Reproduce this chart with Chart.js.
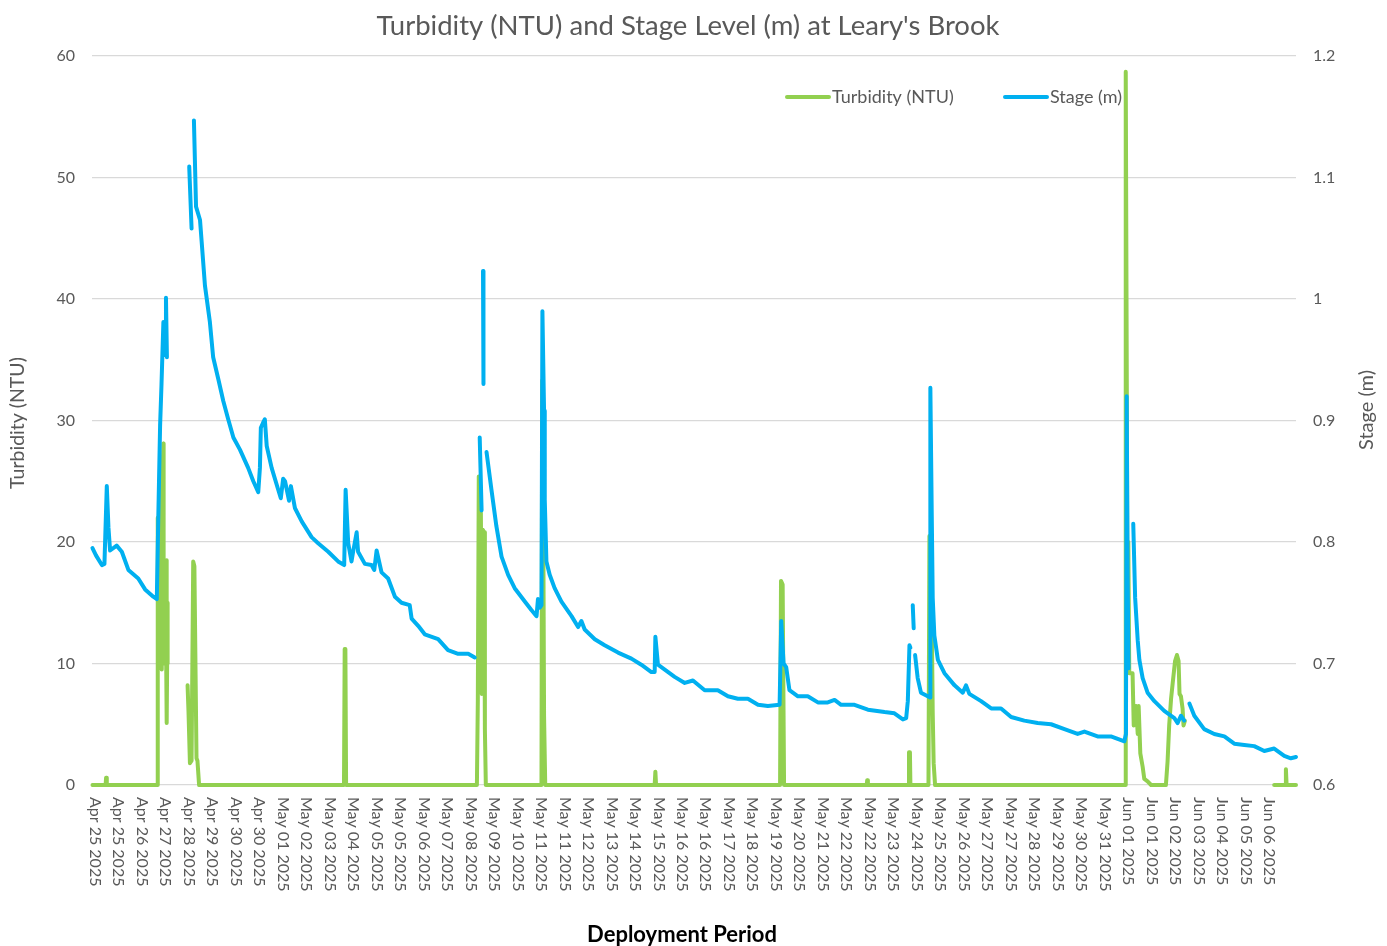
<!DOCTYPE html>
<html>
<head>
<meta charset="utf-8">
<title>Turbidity and Stage - Leary's Brook</title>
<script src="https://cdn.jsdelivr.net/npm/chart.js@4.4.1/dist/chart.umd.min.js"></script>
<style>
  html, body { margin: 0; padding: 0; background: #fff; }
  #wrap { width: 1387px; height: 946px; }
</style>
</head>
<body>
<div id="wrap"><canvas id="chart" width="1387" height="946"></canvas></div>
<script>
// category labels shown under the axis (one every sampling block)
const dateLabels = [
    'Apr 25 2025', 'Apr 25 2025', 'Apr 26 2025', 'Apr 27 2025', 'Apr 28 2025', 'Apr 29 2025',
    'Apr 30 2025', 'Apr 30 2025', 'May 01 2025', 'May 02 2025', 'May 03 2025', 'May 04 2025',
    'May 05 2025', 'May 05 2025', 'May 06 2025', 'May 07 2025', 'May 08 2025', 'May 09 2025',
    'May 10 2025', 'May 11 2025', 'May 11 2025', 'May 12 2025', 'May 13 2025', 'May 14 2025',
    'May 15 2025', 'May 16 2025', 'May 16 2025', 'May 17 2025', 'May 18 2025', 'May 19 2025',
    'May 20 2025', 'May 21 2025', 'May 22 2025', 'May 22 2025', 'May 23 2025', 'May 24 2025',
    'May 25 2025', 'May 26 2025', 'May 27 2025', 'May 27 2025', 'May 28 2025', 'May 29 2025',
    'May 30 2025', 'May 31 2025', 'Jun 01 2025', 'Jun 01 2025', 'Jun 02 2025', 'Jun 03 2025',
    'Jun 04 2025', 'Jun 05 2025', 'Jun 06 2025'
];

// [position along the record (in label steps), value]; null = logger gap
const stagePts = [
    [-0.11, 0.795], [0.04, 0.789], [0.29, 0.781], [0.40, 0.782], [0.50, 0.846], [0.57, 0.812],
    [0.64, 0.793], [0.92, 0.797], [1.14, 0.792], [1.42, 0.777], [1.84, 0.770], [2.13, 0.761],
    [2.48, 0.755], [2.63, 0.753], [2.69, 0.817], [2.77, 0.896], [2.83, 0.930], [2.91, 0.981],
    [2.98, 0.954], [3.02, 1.001], [3.06, 0.952],
    [3.5, null],
    [4.01, 1.109], [4.11, 1.058],
    [4.16, null],
    [4.21, 1.147], [4.30, 1.076], [4.47, 1.065], [4.54, 1.047], [4.68, 1.011], [4.89, 0.981],
    [5.03, 0.952], [5.25, 0.934], [5.46, 0.916], [5.67, 0.901], [5.89, 0.886], [6.17, 0.876],
    [6.52, 0.861], [6.74, 0.850], [6.95, 0.841], [7.02, 0.861], [7.06, 0.894], [7.15, 0.898],
    [7.23, 0.901], [7.31, 0.879], [7.52, 0.861], [7.80, 0.843], [7.91, 0.836], [8.01, 0.852],
    [8.09, 0.850], [8.26, 0.834], [8.34, 0.846], [8.51, 0.828], [8.80, 0.817], [9.22, 0.804],
    [9.50, 0.799], [9.93, 0.792], [10.35, 0.784], [10.61, 0.781], [10.67, 0.843], [10.78, 0.799],
    [10.92, 0.784], [10.99, 0.792], [11.14, 0.808], [11.20, 0.792], [11.49, 0.782], [11.77, 0.781],
    [11.89, 0.777], [11.99, 0.793], [12.20, 0.775], [12.48, 0.770], [12.77, 0.755], [13.05, 0.750],
    [13.40, 0.748], [13.48, 0.737], [13.76, 0.731], [14.04, 0.724], [14.61, 0.720], [15.03, 0.711],
    [15.46, 0.708], [15.89, 0.708], [16.17, 0.705],
    [16.25, null],
    [16.38, 0.886], [16.46, 0.826],
    [16.49, null],
    [16.52, 1.023], [16.54, 0.930],
    [16.60, null],
    [16.67, 0.874], [16.88, 0.843], [17.09, 0.813], [17.31, 0.788], [17.59, 0.773], [17.87, 0.762],
    [18.30, 0.751], [18.58, 0.744], [18.80, 0.739], [18.86, 0.753], [18.94, 0.746], [19.01, 0.748],
    [19.05, 0.990], [19.12, 0.908], [19.15, 0.835], [19.22, 0.784], [19.36, 0.773], [19.57, 0.762],
    [19.86, 0.751], [20.29, 0.739], [20.57, 0.730], [20.71, 0.735], [20.85, 0.728], [21.28, 0.720],
    [21.70, 0.715], [22.27, 0.709], [22.84, 0.704], [23.26, 0.699], [23.69, 0.693], [23.83, 0.693],
    [23.86, 0.722], [23.97, 0.699], [24.26, 0.695], [24.68, 0.689], [25.11, 0.684], [25.46, 0.686],
    [25.96, 0.678], [26.52, 0.678], [26.95, 0.673], [27.37, 0.671], [27.80, 0.671], [28.23, 0.666],
    [28.65, 0.665], [29.15, 0.666], [29.22, 0.735], [29.32, 0.700], [29.43, 0.697], [29.57, 0.678],
    [29.93, 0.673], [30.35, 0.673], [30.78, 0.668], [31.20, 0.668], [31.49, 0.670], [31.77, 0.666],
    [32.34, 0.666], [32.91, 0.662], [33.62, 0.660], [34.04, 0.659], [34.40, 0.654], [34.54, 0.655],
    [34.61, 0.669], [34.68, 0.715], [34.72, 0.713],
    [34.77, null],
    [34.82, 0.748], [34.86, 0.729],
    [34.89, null],
    [34.92, 0.707], [35.03, 0.688], [35.17, 0.676], [35.46, 0.673], [35.56, 0.672], [35.57, 0.927],
    [35.63, 0.821], [35.67, 0.754], [35.74, 0.723], [35.89, 0.703], [36.17, 0.692], [36.60, 0.682],
    [36.95, 0.676], [37.09, 0.682], [37.23, 0.675], [37.73, 0.669], [38.16, 0.663], [38.58, 0.663],
    [39.01, 0.656], [39.57, 0.653], [40.14, 0.651], [40.71, 0.650], [41.28, 0.646], [41.84, 0.642],
    [42.13, 0.644], [42.69, 0.640], [43.26, 0.640], [43.69, 0.637], [43.83, 0.636], [43.90, 0.642],
    [43.93, 0.920], [43.97, 0.773], [44.01, 0.696],
    [44.1, null],
    [44.21, 0.815], [44.29, 0.754], [44.40, 0.719], [44.47, 0.703], [44.61, 0.688], [44.82, 0.676],
    [45.11, 0.669], [45.53, 0.661], [45.96, 0.655], [46.10, 0.651], [46.24, 0.657], [46.38, 0.653],
    [46.5, null],
    [46.60, 0.667], [46.81, 0.657], [47.23, 0.646], [47.66, 0.642], [48.09, 0.640], [48.51, 0.634],
    [48.94, 0.633], [49.36, 0.632], [49.79, 0.628], [50.21, 0.630], [50.64, 0.624], [50.92, 0.622],
    [51.14, 0.623]
];

const turbPts = [
    [-0.11, 0], [0.45, 0], [0.47, 0.6], [0.50, 0], [2.64, 0],
    [2.66, 15], [2.68, 22], [2.70, 10], [2.72, 16], [2.74, 12], [2.76, 25], [2.77, 10],
    [2.79, 20], [2.80, 14], [2.82, 24], [2.84, 9.5], [2.86, 18], [2.87, 11], [2.89, 26],
    [2.91, 28.1], [2.92, 10], [2.94, 15], [2.96, 11], [2.98, 18.5], [2.99, 13], [3.01, 18.5],
    [3.03, 10], [3.04, 18.5], [3.06, 5.1], [3.07, 10], [3.09, 15],
    [3.5, null],
    [3.94, 8.2], [3.98, 6], [4.04, 1.8], [4.11, 2], [4.18, 18.4], [4.23, 18], [4.32, 2.2],
    [4.36, 2], [4.43, 0],
    [10.60, 0], [10.63, 11.2], [10.66, 11.2], [10.69, 0],
    [16.26, 0], [16.30, 7], [16.34, 25.4], [16.38, 10], [16.43, 22.4], [16.47, 7.5], [16.51, 21],
    [16.57, 20.8], [16.60, 4.6], [16.64, 0],
    [19.01, 0], [19.04, 33.3], [19.09, 20], [19.12, 5.7], [19.17, 0],
    [23.83, 0], [23.86, 1.1], [23.89, 0],
    [29.17, 0], [29.21, 16.8], [29.28, 16.5], [29.34, 0],
    [32.86, 0], [32.88, 0.4], [32.91, 0],
    [34.62, 0], [34.66, 2.7], [34.70, 2.7], [34.72, 0],
    [35.49, 0], [35.53, 20.5], [35.57, 12], [35.62, 15.5], [35.67, 6], [35.71, 1.8], [35.77, 0],
    [43.86, 0], [43.89, 58.7], [43.94, 30], [43.97, 9.5], [44.00, 20], [44.04, 9.2], [44.18, 9.2],
    [44.23, 4.9], [44.33, 6.5], [44.40, 4.2], [44.44, 6.5], [44.51, 2.6], [44.61, 1.5],
    [44.68, 0.5], [44.82, 0.3], [44.97, 0],
    [45.60, 0], [45.67, 1.9], [45.74, 4.9], [45.82, 7.1], [45.89, 8.4], [45.99, 10.2],
    [46.07, 10.7], [46.14, 10.2], [46.18, 7.5], [46.24, 7.3], [46.31, 6.3], [46.35, 4.9],
    [46.41, 5.3],
    [48, null],
    [50.21, 0], [50.68, 0], [50.71, 1.3], [50.74, 0], [51.14, 0]
];

const chartTitle = "Turbidity (NTU) and Stage Level (m) at Leary's Brook";
const turbColor = '#92D050';
const stageColor = '#00B0F0';
const textColor = '#595959';
const fontFamily = 'Lato, "Open Sans", sans-serif';

const toXY = pts => pts.map(p => ({ x: p[0], y: p[1] }));

// 标题、旋转的日期标签、轴标题和图例都在这里画
const textPlugin = {
    id: 'texts',
    afterDraw(chart) {
        const { ctx, chartArea, scales } = chart;
        ctx.save();
        ctx.fillStyle = textColor;

        ctx.font = '27.5px ' + fontFamily;
        ctx.textAlign = 'center';
        ctx.textBaseline = 'middle';
        ctx.fillText(chartTitle, 688, 26);

        // date labels read top-to-bottom
        ctx.font = '16px ' + fontFamily;
        ctx.textAlign = 'left';
        dateLabels.forEach((lab, i) => {
            const x = scales.x.getPixelForValue(i);
            ctx.save();
            ctx.translate(x, chartArea.bottom + 12);
            ctx.rotate(Math.PI / 2);
            ctx.fillText(lab, 0, 0);
            ctx.restore();
        });

        ctx.textAlign = 'center';
        ctx.font = '19.5px ' + fontFamily;
        ctx.save();
        ctx.translate(18, 423);
        ctx.rotate(-Math.PI / 2);
        ctx.fillText('Turbidity (NTU)', 0, 0);
        ctx.restore();
        ctx.font = '20px ' + fontFamily;
        ctx.save();
        ctx.translate(1367, 410);
        ctx.rotate(-Math.PI / 2);
        ctx.fillText('Stage (m)', 0, 0);
        ctx.restore();

        ctx.fillStyle = '#000';
        ctx.font = 'bold 22px ' + fontFamily;
        ctx.fillText('Deployment Period', 682, 935);

        // legend
        ctx.lineWidth = 4;
        ctx.lineCap = 'round';
        [[787, turbColor, 'Turbidity (NTU)'], [1005, stageColor, 'Stage (m)']].forEach(item => {
            ctx.strokeStyle = item[1];
            ctx.beginPath();
            ctx.moveTo(item[0], 97);
            ctx.lineTo(item[0] + 42, 97);
            ctx.stroke();
            ctx.fillStyle = textColor;
            ctx.font = '18px ' + fontFamily;
            ctx.textAlign = 'left';
            ctx.fillText(item[2], item[0] + 45, 97);
        });
        ctx.restore();
    }
};

const canvas = document.getElementById('chart');
new Chart(canvas, {
    type: 'line',
    data: {
        datasets: [
            {
                label: 'Turbidity (NTU)',
                data: toXY(turbPts),
                yAxisID: 'y',
                borderColor: turbColor,
                borderWidth: 4,
                clip: false,
                order: 1
            },
            {
                label: 'Stage (m)',
                data: toXY(stagePts),
                yAxisID: 'y1',
                borderColor: stageColor,
                borderWidth: 4,
                clip: false,
                order: 0
            }
        ]
    },
    options: {
        responsive: false,
        animation: false,
        spanGaps: false,
        layout: { padding: { top: 56, left: 0, right: 0, bottom: 0 } },
        elements: {
            point: { radius: 0 },
            line: { tension: 0, borderJoinStyle: 'round', borderCapStyle: 'round' }
        },
        plugins: {
            legend: { display: false },
            title: { display: false },
            tooltip: { enabled: false }
        },
        scales: {
            x: {
                type: 'linear',
                min: -0.13,
                max: 51.14,
                grid: { display: false },
                border: { display: false },
                ticks: { display: false },
                afterFit(scale) { scale.height = 161; }
            },
            y: {
                position: 'left',
                min: 0,
                max: 60,
                ticks: { stepSize: 10, color: textColor, padding: 17, font: { size: 16, family: fontFamily } },
                grid: { color: '#d9d9d9', lineWidth: 1.3, drawTicks: false },
                border: { display: false },
                afterFit(scale) { scale.width = 92; }
            },
            y1: {
                position: 'right',
                min: 0.6,
                max: 1.2,
                ticks: {
                    stepSize: 0.1,
                    color: textColor,
                    padding: 17,
                    font: { size: 16, family: fontFamily },
                    callback: v => String(+v.toFixed(1))
                },
                grid: { display: false, drawTicks: false },
                border: { display: false },
                afterFit(scale) { scale.width = 91; }
            }
        }
    },
    plugins: [textPlugin]
});
</script>
</body>
</html>
